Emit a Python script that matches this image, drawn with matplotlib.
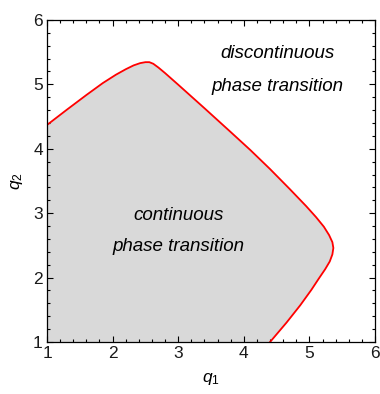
import numpy as np
import matplotlib.pyplot as plt
from matplotlib.ticker import MultipleLocator

plt.rcParams['font.family'] = ['Liberation Sans', 'DejaVu Sans']
plt.rcParams['mathtext.fontset'] = 'custom'
plt.rcParams['mathtext.rm'] = 'Liberation Sans'
plt.rcParams['mathtext.it'] = 'Liberation Sans:italic'

# boundary between the two regimes
q1 = [1.00, 1.30, 1.60, 1.85, 2.05, 2.20, 2.32, 2.42, 2.50, 2.56, 2.62, 2.70,
      2.80, 3.00, 3.40, 3.80, 4.10, 4.40, 4.70, 4.95, 5.10, 5.22, 5.30, 5.35,
      5.365, 5.35, 5.31, 5.24, 5.14, 5.03, 4.86, 4.65, 4.40]
q2 = [4.37, 4.605, 4.835, 5.02, 5.15, 5.235, 5.295, 5.33, 5.345, 5.345, 5.32,
      5.26, 5.175, 4.995, 4.63, 4.26, 3.98, 3.685, 3.375, 3.11, 2.94, 2.79,
      2.66, 2.55, 2.46, 2.36, 2.25, 2.13, 1.98, 1.81, 1.57, 1.30, 1.00]

fig = plt.figure(figsize=(3.8, 3.94), dpi=100)
ax = fig.add_axes([0.1237, 0.132, 0.8632, 0.8173])

# continuous region = area enclosed by the curve and the lower-left corner
fx = q1 + [1.0]
fy = q2 + [1.0]
ax.fill(fx, fy, color='#d9d9d9', lw=0, zorder=1)
ax.plot(q1, q2, color='#ff0000', lw=1.3, zorder=2,
        solid_joinstyle='round')

ax.set_xlim(1, 6)
ax.set_ylim(1, 6)
ax.xaxis.set_major_locator(MultipleLocator(1))
ax.yaxis.set_major_locator(MultipleLocator(1))
ax.xaxis.set_minor_locator(MultipleLocator(0.2))
ax.yaxis.set_minor_locator(MultipleLocator(0.2))
ax.tick_params(which='both', direction='in', top=True, right=True,
               labelsize=12.5, labelcolor='#1a1a1a', pad=3, width=0.8)
ax.tick_params(which='major', length=4)
ax.tick_params(which='minor', length=2.2)
for s in ax.spines.values():
    s.set_linewidth(0.9)

ax.set_xlabel('$q_1$', fontsize=12.5, labelpad=7)
ax.set_ylabel('$q_2$', fontsize=12.5, labelpad=6)

fs = 13.5
ax.text(4.52, 5.48, 'discontinuous', style='italic', fontsize=fs,
        ha='center', va='center')
ax.text(4.52, 4.97, 'phase transition', style='italic', fontsize=fs,
        ha='center', va='center')
ax.text(3.0, 2.97, 'continuous', style='italic', fontsize=fs,
        ha='center', va='center')
ax.text(3.0, 2.48, 'phase transition', style='italic', fontsize=fs,
        ha='center', va='center')

fig.savefig('out.png', dpi=100)
